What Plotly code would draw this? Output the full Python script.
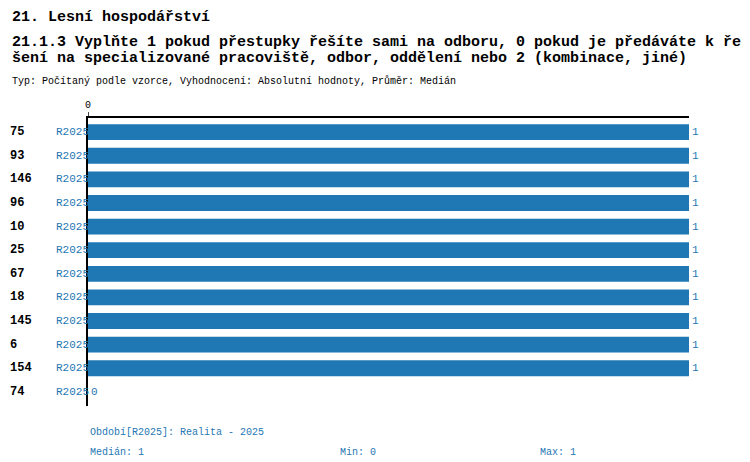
import plotly.graph_objects as go

codes = ["75", "93", "146", "96", "10", "25", "67", "18", "145", "6", "154", "74"]
period = "R2025"
values = [1, 1, 1, 1, 1, 1, 1, 1, 1, 1, 1, 0]
blue = "#1f77b4"
mono = "Liberation Mono, DejaVu Sans Mono, monospace"

rows = list(range(len(codes)))
fig = go.Figure(go.Bar(x=values, y=rows, orientation="h", width=0.67,
                       marker=dict(color=blue, line=dict(width=0)),
                       text=[str(v) for v in values], textposition="outside",
                       cliponaxis=False, textfont=dict(color=blue, size=11, family=mono)))

ann = []
for i, c in enumerate(codes):
    ann.append(dict(x=-80/601, y=i, xref="paper", yref="y", text="<b>%s</b>" % c, showarrow=False,
                    xanchor="left", font=dict(size=12, family=mono, color="black")))
    ann.append(dict(x=-34/601, y=i, xref="paper", yref="y", text=period, showarrow=False,
                    xanchor="left", font=dict(size=11, family=mono, color=blue)))

def txt(x, y, s, size=11, color=blue, bold=False):
    ann.append(dict(x=x, y=y, xref="paper", yref="paper", text=("<b>%s</b>" % s) if bold else s,
                    showarrow=False, xanchor="left", yanchor="middle",
                    font=dict(size=size, family=mono, color=color)))

H = 288
def py(pix):
    return (398 - pix) / H

txt(-78/601, py(10), "21. Lesní hospodářství", 15, "black", True)
txt(-78/601, py(34), "21.1.3 Vyplňte 1 pokud přestupky řešíte sami na odboru, 0 pokud je předáváte k ře", 15, "black", True)
txt(-78/601, py(50), "šení na specializované pracoviště, odbor, oddělení nebo 2 (kombinace, jiné)", 15, "black", True)
txt(-78/601, py(73), "Typ: Počítaný podle vzorce, Vyhodnocení: Absolutní hodnoty, Průměr: Medián", 10, "black")
txt(0, py(424), "Období[R2025]: Realita - 2025", 10)
txt(0, py(444), "Medián: 1", 10)
txt(250/601, py(444), "Min: 0", 10)
txt(450/601, py(444), "Max: 1", 10)

fig.update_layout(
    width=750, height=462, margin=dict(l=80, r=69, t=110, b=64, autoexpand=False),
    plot_bgcolor="white", paper_bgcolor="white", showlegend=False,
    annotations=ann,
    xaxis=dict(range=[0, 1], side="top", tickvals=[0], ticktext=["0"], showgrid=False, zeroline=False,
               showline=True, linecolor="black", linewidth=2, ticks="outside", ticklen=4,
               tickfont=dict(size=10, family=mono, color="black")),
    yaxis=dict(range=[11.6, -0.6], showticklabels=False, showgrid=False, zeroline=False,
               showline=True, linecolor="black", linewidth=2),
)
fig.write_html("out.html")
